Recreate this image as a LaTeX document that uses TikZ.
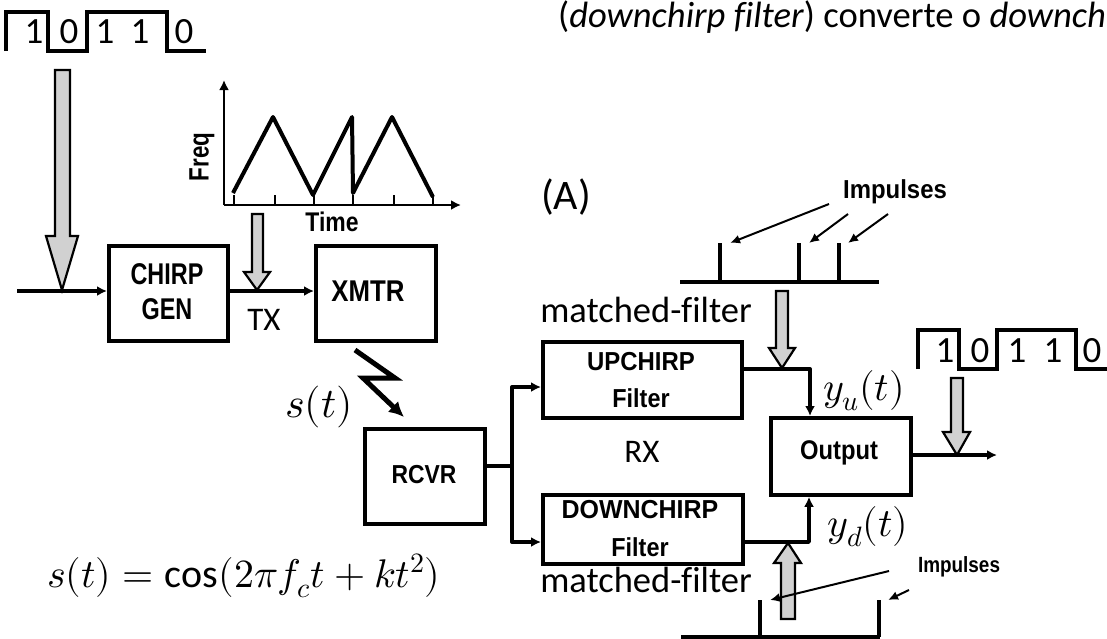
\documentclass[tikz,border=0pt]{standalone}
\usepackage{unicode-math}
\setmainfont{Carlito}[Ligatures=NoCommon]
\setmathfont{Latin Modern Math}
\newfontfamily\boxfont{Liberation Sans}[BoldFont={Liberation Sans Bold}]
\usetikzlibrary{arrows.meta}
\newcommand{\fsz}[1]{\fontsize{#1}{#1}\selectfont}
\newcommand{\blab}[3]{\scalebox{#2}[1]{\boxfont\bfseries\fsz{#1}#3}}
\tikzset{
  x=1pt,y=-1pt,
  tipS/.style={-{Latex[length=10pt,width=10pt]}},
  wire/.style={line width=3.4pt,line join=round},
  blockbox/.style={draw,line width=3.8pt,inner sep=0pt,anchor=north west},
  wave/.style={line width=3.4pt,line join=miter},
  blockarrow/.style={draw,line width=2.2pt,fill=black!18,line join=miter},
  txt/.style={inner sep=0pt,font=\fsz{37}},
  mathtxt/.style={inner sep=0pt,font=\fsz{40}},
  lab/.style={inner sep=0pt},
}
\begin{document}
\begin{tikzpicture}
\useasboundingbox (0,0) rectangle (1107,638);
\clip (0,0) rectangle (1107,638);
% header text
\node[txt,font=\fsz{36.6},anchor=base west] (hdr) at (558,27) {(\textit{downchirp filter}) converte o \textit{downch}};
% boxes
\node[blockbox,minimum width=119pt,minimum height=95pt] (gen) at (107,244) {};
\node[blockbox,minimum width=120pt,minimum height=95pt] (xmtr) at (314,244) {};
\node[blockbox,minimum width=120pt,minimum height=95pt] (rcvr) at (363,427) {};
\node[blockbox,minimum width=199pt,minimum height=76pt] (up) at (541,340) {};
\node[blockbox,minimum width=200pt,minimum height=69pt] (down) at (541,493) {};
\node[blockbox,minimum width=140pt,minimum height=77pt] (out) at (769,416) {};
% box labels
\node[lab] (l1) at (167,274) {\blab{30}{.78}{CHIRP}};
\node[lab] (l2) at (167,309) {\blab{30}{.78}{GEN}};
\node[lab] (l3) at (368,291) {\blab{30}{.86}{XMTR}};
\node[lab] (l4) at (424,475) {\blab{26}{.88}{RCVR}};
\node[lab] (l5) at (641,362) {\blab{26}{.92}{UPCHIRP}};
\node[lab] (l6) at (641,398) {\blab{26}{.9}{Filter}};
\node[lab] (l7) at (640,510) {\blab{26}{.96}{DOWNCHIRP}};
\node[lab] (l8) at (640,547) {\blab{26}{.9}{Filter}};
\node[lab] (l9) at (839,453) {\blab{27}{.88}{Output}};
% coordinates
\coordinate (in) at (17,291);
\coordinate (mid) at (512,466);
\coordinate (midu) at (512,387);
\coordinate (midd) at (512,542);
\coordinate (outEnd) at (997,455);
\coordinate (upc) at (810,369);
\coordinate (downc) at (809,542);
% connectors
\draw[wire,tipS] (in) -- (gen.west |- in);
\draw[wire,tipS] (gen.east |- in) -- (xmtr.west |- in);
\draw[wire] (rcvr.east |- mid) -- (mid);
\draw[wire,tipS] (mid) -- (midu) -- (up.west |- midu);
\draw[wire,tipS] (mid) -- (midd) -- (down.west |- midd);
\draw[wire,tipS] (up.east |- upc) -- (upc) -- (upc |- out.north);
\draw[wire,tipS] (down.east |- downc) -- (downc) -- (downc |- out.south);
\draw[wire,tipS] (out.east |- outEnd) -- (outEnd);
% lightning
\coordinate (zA) at (355,350);
\coordinate (zB) at (395,378);
\coordinate (zC) at (363,378);
\coordinate (zD) at (404,417);
\draw[line width=5pt,line join=miter,-{Latex[length=15pt,width=15pt]}] (zA) -- (zB) -- (zC) -- (zD);
% waves
\draw[wave] (6,51) -- (6,12) -- (48,12) -- (48,51) -- (87,51) -- (87,12) -- (167,12) -- (167,51) -- (206,51);
\draw[wave] (918,369) -- (918,330) -- (959,330) -- (959,369) -- (997,369) -- (997,330) -- (1076,330) -- (1076,369) -- (1107,369);
\foreach \n/\x/\y/\d in {a/34/32/1,b/69/32/0,c/105/32/1,d/140/32/1,e/184/32/0,f/945/351/1,g/980/351/0,h/1017/351/1,i/1053/351/1,j/1092/351/0}
  \node[txt] (dig\n) at (\x,\y) {\d};
% chart
\coordinate (org) at (224,205);
\coordinate (yend) at (224,80);
\coordinate (xend) at (461,205);
\draw[line width=2.2pt,-{Latex[length=10pt,width=10pt]}] (org) -- (yend);
\draw[line width=2.2pt,-{Latex[length=10pt,width=10pt]}] (org) -- (xend);
\draw[line width=4pt,line join=round] (233,193) -- (273,117) -- (313,195) -- (352,117) -- (353,193) -- (392,117) -- (433,197);
\foreach \x in {234,275,314,353,394,433} \draw[line width=1.5pt] (\x,195) -- (\x,205);
\node[lab,rotate=90] (freq) at (202,157) {\blab{28}{.8}{Freq}};
\node[lab] (time) at (332,222) {\blab{27}{.85}{Time}};
% block arrows
\draw[blockarrow] (55,70) -- (70,70) -- (70,236) -- (78,236) -- (62,290) -- (46,236) -- (55,236) -- cycle;
\draw[blockarrow] (252,214) -- (263,214) -- (263,272) -- (270,272) -- (257,290) -- (244,272) -- (252,272) -- cycle;
\draw[blockarrow] (776,291) -- (788,291) -- (788,348) -- (795,348) -- (782,368) -- (769,348) -- (776,348) -- cycle;
\draw[blockarrow] (951,378) -- (963,378) -- (963,432) -- (970,432) -- (957,455) -- (943,432) -- (951,432) -- cycle;
\draw[blockarrow] (781,619) -- (795,619) -- (795,563) -- (801,563) -- (788,543) -- (774,563) -- (781,563) -- cycle;
% impulses top
\coordinate (b1a) at (680,282);
\coordinate (b1b) at (879,282);
\draw[line width=3.4pt] (b1a) -- (b1b);
\foreach \x in {720,799,839} \draw[line width=3.4pt] (\x,282) -- (\x,243);
\node[lab] (imp1) at (895,192) {\blab{26}{.92}{Impulses}};
\draw[line width=2pt,-{Latex[length=10pt,width=9pt]}] (829,204) -- (730,243);
\draw[line width=2pt,-{Latex[length=10pt,width=9pt]}] (848,214) -- (809,243);
\draw[line width=2pt,-{Latex[length=10pt,width=9pt]}] (888,214) -- (848,243);
% impulses bottom
\coordinate (b2a) at (681,637);
\coordinate (b2b) at (880,637);
\draw[line width=3.4pt] (b2a) -- (b2b);
\foreach \x in {760,879} \draw[line width=3.4pt] (\x,637) -- (\x,600);
\node[lab] (imp2) at (959,567) {\blab{22}{.86}{Impulses}};
\draw[line width=2pt,-{Latex[length=10pt,width=9pt]}] (889,571) -- (770,600);
\draw[line width=2pt,-{Latex[length=10pt,width=9pt]}] (909,590) -- (888,600);
% labels
\node[txt,font=\fsz{42}] (A) at (566,197) {(A)};
\node[txt,font=\fsz{36.5}] (mf1) at (646,310) {matched-filter};
\node[txt,font=\fsz{36.5}] (mf2) at (646,580) {matched-filter};
\node[txt,font=\fsz{33}] (tx) at (264,320) {TX};
\node[txt,font=\fsz{33}] (rx) at (642,452) {RX};
\node[mathtxt,font=\fsz{42}] (st) at (319,407) {$s(t)$};
\node[mathtxt] (yu) at (864,391) {$y_u(t)$};
\node[mathtxt] (yd) at (868,527) {$y_d(t)$};
\node[mathtxt,anchor=west] (eq) at (47,576) {$s(t)=\cos(2\pi f_c t+kt^2)$};
\end{tikzpicture}
\end{document}
